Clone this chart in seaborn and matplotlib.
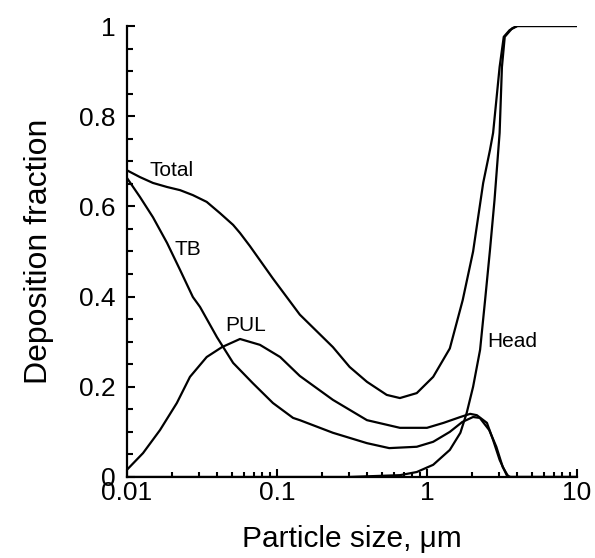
import numpy as np
import pandas as pd
import seaborn as sns
import matplotlib.pyplot as plt
from matplotlib.ticker import FixedLocator, MultipleLocator, LogLocator, NullFormatter

# values (particle size in um, deposition fraction)
total_x = [0.01, 0.0122, 0.0149, 0.0185, 0.0226, 0.0275, 0.034, 0.0417, 0.051, 0.0567,
           0.066, 0.094, 0.142, 0.236, 0.305, 0.398, 0.539, 0.66, 0.855, 1.1, 1.42,
           1.73, 2.03, 2.37, 2.63, 2.76, 3.05, 3.25, 3.56, 4.0, 10.0]
total_y = [0.68, 0.665, 0.652, 0.643, 0.636, 0.625, 0.61, 0.585, 0.559, 0.541,
           0.512, 0.44, 0.36, 0.288, 0.244, 0.211, 0.182, 0.175, 0.186, 0.222, 0.285,
           0.392, 0.5, 0.652, 0.725, 0.763, 0.909, 0.976, 0.991, 1.0, 1.0]

tb_x = [0.01, 0.0122, 0.0149, 0.0185, 0.0226, 0.0275, 0.0307, 0.0398, 0.051, 0.069,
        0.094, 0.128, 0.142, 0.236, 0.398, 0.56, 0.855, 1.1, 1.42, 1.72, 2.03, 2.25,
        2.6, 2.9, 3.2, 3.5, 10.0]
tb_y = [0.663, 0.621, 0.576, 0.519, 0.459, 0.399, 0.377, 0.31, 0.253, 0.208,
        0.164, 0.131, 0.126, 0.098, 0.075, 0.064, 0.067, 0.078, 0.1, 0.122, 0.133, 0.131,
        0.104, 0.067, 0.022, 0.0, 0.0]

pul_x = [0.01, 0.0128, 0.0166, 0.0215, 0.0263, 0.034, 0.043, 0.0567, 0.077, 0.105,
         0.142, 0.236, 0.398, 0.66, 1.0, 1.29, 1.67, 1.94, 2.15, 2.51, 2.76, 3.05,
         3.4, 3.6, 10.0]
pul_y = [0.016, 0.053, 0.104, 0.164, 0.222, 0.266, 0.288, 0.306, 0.293, 0.266,
         0.224, 0.171, 0.126, 0.109, 0.109, 0.12, 0.133, 0.14, 0.137, 0.12, 0.082, 0.038,
         0.004, 0.0, 0.0]

head_x = [0.01, 0.3, 0.66, 0.855, 1.1, 1.42, 1.67, 1.84, 2.03, 2.26, 2.44, 2.63,
          2.82, 3.05, 3.16, 3.3, 3.7, 4.0, 10.0]
head_y = [0.0, 0.0, 0.004, 0.011, 0.027, 0.06, 0.098, 0.142, 0.2, 0.282, 0.392, 0.503,
          0.614, 0.763, 0.909, 0.976, 0.995, 1.0, 1.0]

curves = {"Total": (total_x, total_y), "TB": (tb_x, tb_y),
          "PUL": (pul_x, pul_y), "Head": (head_x, head_y)}
rows = []
for name, (xs, ys) in curves.items():
    for x, y in zip(xs, ys):
        rows.append((name, x, y))
df = pd.DataFrame(rows, columns=["region", "size", "frac"])

sns.set_style("ticks")
plt.rcParams['font.family'] = ['Liberation Sans', 'DejaVu Sans']
plt.rcParams['text.color'] = 'black'
plt.rcParams['axes.labelcolor'] = 'black'

fig = plt.figure(figsize=(5.95, 5.58), dpi=100)
ax = fig.add_axes([0.2134, 0.1452, 0.9697 - 0.2134, 0.9534 - 0.1452])

for name in curves:
    sns.lineplot(data=df[df.region == name], x="size", y="frac", color="black",
                 linewidth=1.6, sort=False, estimator=None, ax=ax)

ax.set_xscale("log")
ax.set_xlim(0.01, 10)
ax.set_ylim(0, 1)
ax.xaxis.set_major_locator(FixedLocator([0.01, 0.1, 1, 10]))
ax.set_xticklabels(["0.01", "0.1", "1", "10"])
ax.xaxis.set_minor_locator(LogLocator(base=10, subs=np.arange(2, 10)))
ax.xaxis.set_minor_formatter(NullFormatter())
ax.set_yticks([0, 0.2, 0.4, 0.6, 0.8, 1.0])
ax.set_yticklabels(["0", "0.2", "0.4", "0.6", "0.8", "1"])
ax.yaxis.set_minor_locator(MultipleLocator(0.05))

ax.tick_params(which="both", direction="in", width=1.5, colors="black",
               labelcolor="black", labelsize=19)
ax.tick_params(axis="x", which="major", length=6, pad=3)
ax.tick_params(axis="x", which="minor", length=3.5)
ax.tick_params(axis="y", which="major", length=5.5, pad=8)
ax.tick_params(axis="y", which="minor", length=4.5)
sns.despine(ax=ax)
for s in ["left", "bottom"]:
    ax.spines[s].set_linewidth(1.6)
    ax.spines[s].set_color("black")

ax.set_xlabel("Particle size, μm", fontsize=21.5, labelpad=14)
ax.set_ylabel("Deposition fraction", fontsize=23, labelpad=18)

# curve labels
ax.text(0.0142, 0.667, "Total", fontsize=15)
ax.text(0.0206, 0.492, "TB", fontsize=15)
ax.text(0.045, 0.324, "PUL", fontsize=15)
ax.text(2.51, 0.288, "Head", fontsize=15)

fig.savefig("out.png", dpi=100)
